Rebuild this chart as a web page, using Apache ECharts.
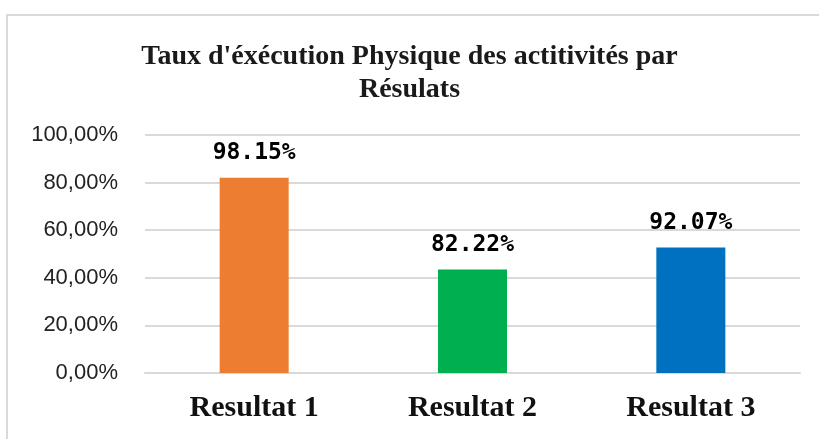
<!DOCTYPE html>
<html>
<head>
<meta charset="utf-8">
<script src="https://cdn.jsdelivr.net/npm/echarts@6/dist/echarts.min.js"></script>
<style>
  html,body{margin:0;padding:0;background:#fff;}
  #box{position:absolute;left:6px;top:14px;width:830px;height:450px;border:2px solid #d9d9d9;box-sizing:border-box;}
  #chart{width:819px;height:439px;}
</style>
</head>
<body>
<div id="box"></div>
<div id="chart"></div>
<script>
"use strict";

// donnees
var categories=['Resultat 1','Resultat 2','Resultat 3'];
var barValues=[82.0,43.5,52.7];
var barLabels=['98.15%','82.22%','92.07%'];
var barColors=['#ed7d31','#00b050','#0070c0'];
var yTicks=[0,20,40,60,80,100];

var chart=echarts.init(document.getElementById('chart'));

var data=barValues.map(function(v,i){
  return {value:v,itemStyle:{color:barColors[i]}};
});

chart.setOption({
  animation:false,
  title:{
    text:"Taux d'éxécution Physique des actitivités par\nRésulats",
    left:'center',
    top:35,
    textStyle:{
      fontFamily:'Liberation Serif',
      fontWeight:'bold',
      fontSize:28,
      lineHeight:33,
      color:'#1a1a1a'
    }
  },
  grid:{left:145,right:19,top:135,bottom:66},
  xAxis:{
    type:'category',
    data:categories,
    axisTick:{show:false},
    axisLine:{lineStyle:{color:'#d9d9d9',width:2}},
    axisLabel:{
      margin:20,
      fontFamily:'Liberation Serif',
      fontWeight:'bold',
      fontSize:30,
      color:'#111'
    }
  },
  yAxis:{
    type:'value',
    min:yTicks[0],
    max:yTicks[yTicks.length-1],
    interval:20,
    axisLine:{show:false},
    axisTick:{show:false},
    splitLine:{lineStyle:{color:'#d9d9d9',width:2}},
    axisLabel:{
      margin:27,
      fontFamily:'Liberation Sans',
      fontSize:22,
      color:'#222',
      formatter:function(v){return v.toFixed(2).replace('.',',')+'%';}
    }
  },
  series:[{
    type:'bar',
    data:data,
    barWidth:69,
    label:{
      show:true,
      position:'top',
      distance:13,
      fontFamily:'DejaVu Sans Mono',
      fontWeight:'bold',
      fontSize:23,
      color:'#000',
      formatter:function(p){return barLabels[p.dataIndex];}
    }
  }]
});
</script>
</body>
</html>
